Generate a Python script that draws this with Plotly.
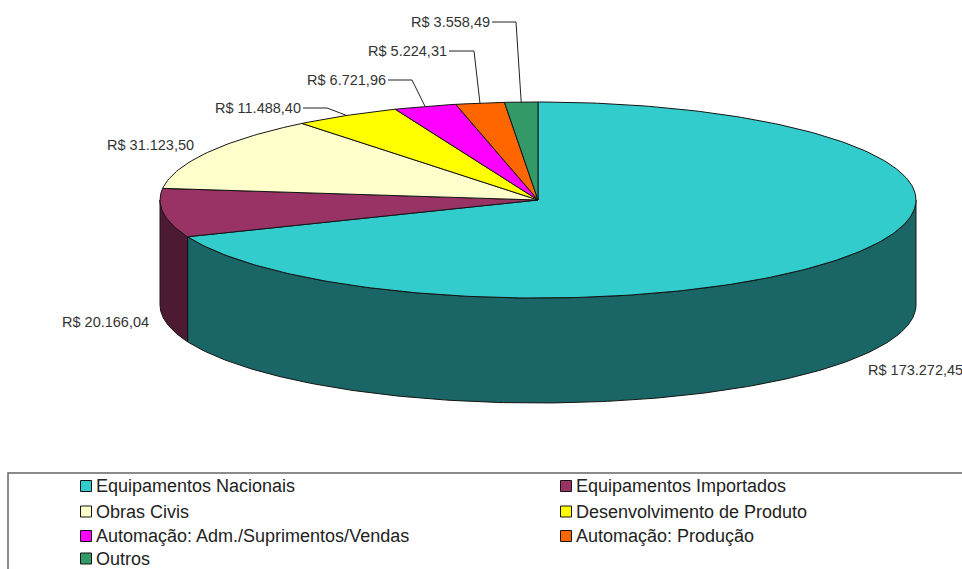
import numpy as np
import plotly.graph_objects as go

categories = ["Equipamentos Nacionais", "Equipamentos Importados", "Obras Civis",
              "Desenvolvimento de Produto", "Automação: Adm./Suprimentos/Vendas",
              "Automação: Produção", "Outros"]
values = [173272.45, 20166.04, 31123.50, 11488.40, 6721.96, 5224.31, 3558.49]
value_labels = ["R$ 173.272,45", "R$ 20.166,04", "R$ 31.123,50", "R$ 11.488,40",
                "R$ 6.721,96", "R$ 5.224,31", "R$ 3.558,49"]
top_colors = ["#33CCCC", "#993366", "#FFFFCC", "#FFFF00", "#FF00FF", "#FF6600", "#339966"]
side_colors = ["#1A6666", "#4D1A33", "#80806A", "#808000", "#800080", "#803300", "#1A4D33"]

# pie geometry, in pixels of the 962x569 page
CX, CY, RX, RY, DEPTH = 538, 200, 378, 98, 105
# label anchors (x, y, xanchor) and leader elbow
label_pos = [(868, 370, "left"), (149, 322, "right"), (194, 145, "right"), (301, 108, "right"),
             (386, 80, "right"), (447, 51, "right"), (490, 22, "right")]
elbows = [None, None, None, (303, 327), (388, 412), (449, 474), (492, 516)]

LEGEND_X = [86, 566]
LEGEND_TEXT_OFFSET = 10
LEGEND_Y = [486, 511.5, 536, 558.5]

fractions = np.array(values) / sum(values)
edges = np.concatenate([[0], np.cumsum(fractions)]) * 2 * np.pi


def ex(t):
    return CX + RX * np.sin(t)


def ey(t):
    return CY - RY * np.cos(t)


fig = go.Figure()
EDGE = dict(color="#141414", width=1)

# side wall: only the part of each slice that faces the viewer
for i, name in enumerate(categories):
    a, b = max(edges[i], np.pi / 2), min(edges[i + 1], 3 * np.pi / 2)
    if b <= a:
        continue
    t = np.linspace(a, b, 200)
    xs = np.concatenate([ex(t), ex(t[::-1])])
    ys = np.concatenate([ey(t), ey(t[::-1]) + DEPTH])
    fig.add_trace(go.Scatter(x=np.append(xs, xs[0]), y=np.append(ys, ys[0]), mode="lines",
                             fill="toself", fillcolor=side_colors[i], line=EDGE,
                             showlegend=False, hoverinfo="skip"))

# top faces
for i, name in enumerate(categories):
    t = np.linspace(edges[i], edges[i + 1], max(8, int(400 * fractions[i])))
    xs = np.concatenate([[CX], ex(t), [CX]])
    ys = np.concatenate([[CY], ey(t), [CY]])
    fig.add_trace(go.Scatter(x=xs, y=ys, mode="lines", fill="toself", fillcolor=top_colors[i],
                             line=EDGE, name=name, showlegend=False, hoverinfo="name"))

# leader lines, ending on the mid-angle of each small slice
for i, elbow in enumerate(elbows):
    if elbow is None:
        continue
    mid = (edges[i] + edges[i + 1]) / 2
    y0 = label_pos[i][1]
    fig.add_trace(go.Scatter(x=[elbow[0], elbow[1], ex(mid)], y=[y0, y0, ey(mid)], mode="lines",
                             line=dict(color="#222222", width=1), showlegend=False,
                             hoverinfo="skip"))

annotations = [dict(x=p[0], y=p[1], xref="x", yref="y", text=value_labels[i], showarrow=False,
                    xanchor=p[2], yanchor="middle", borderpad=0, borderwidth=0,
                    font=dict(family="Liberation Sans", size=14.5, color="#333333"))
               for i, p in enumerate(label_pos)]

# legend entries, two columns, row by row
for i, name in enumerate(categories):
    fig.add_trace(go.Scatter(x=[LEGEND_X[i % 2]], y=[LEGEND_Y[i // 2]], mode="markers",
                             marker=dict(symbol="square", size=11, color=top_colors[i],
                                         line=dict(color="#141414", width=1)),
                             showlegend=False, hoverinfo="skip"))
    annotations.append(dict(x=LEGEND_X[i % 2] + LEGEND_TEXT_OFFSET, y=LEGEND_Y[i // 2],
                            xref="x", yref="y", text=name, showarrow=False, xanchor="left",
                            yanchor="middle", borderpad=0, borderwidth=0,
                            font=dict(family="Liberation Sans", size=18, color="#222222")))

fig.update_layout(
    width=962, height=569, margin=dict(l=0, r=0, t=0, b=0, pad=0),
    paper_bgcolor="white", plot_bgcolor="white", showlegend=False,
    xaxis=dict(range=[0, 962], visible=False, fixedrange=True),
    yaxis=dict(range=[569, 0], visible=False, fixedrange=True),
    annotations=annotations,
    shapes=[dict(type="rect", xref="x", yref="y", x0=8, y0=473, x1=980, y1=590,
                 line=dict(color="#666666", width=1.5), fillcolor="rgba(0,0,0,0)", layer="below")],
)
fig.write_html("out.html", config={"displayModeBar": False},
               post_script="document.body.style.margin='0';document.body.style.overflow='hidden';")
